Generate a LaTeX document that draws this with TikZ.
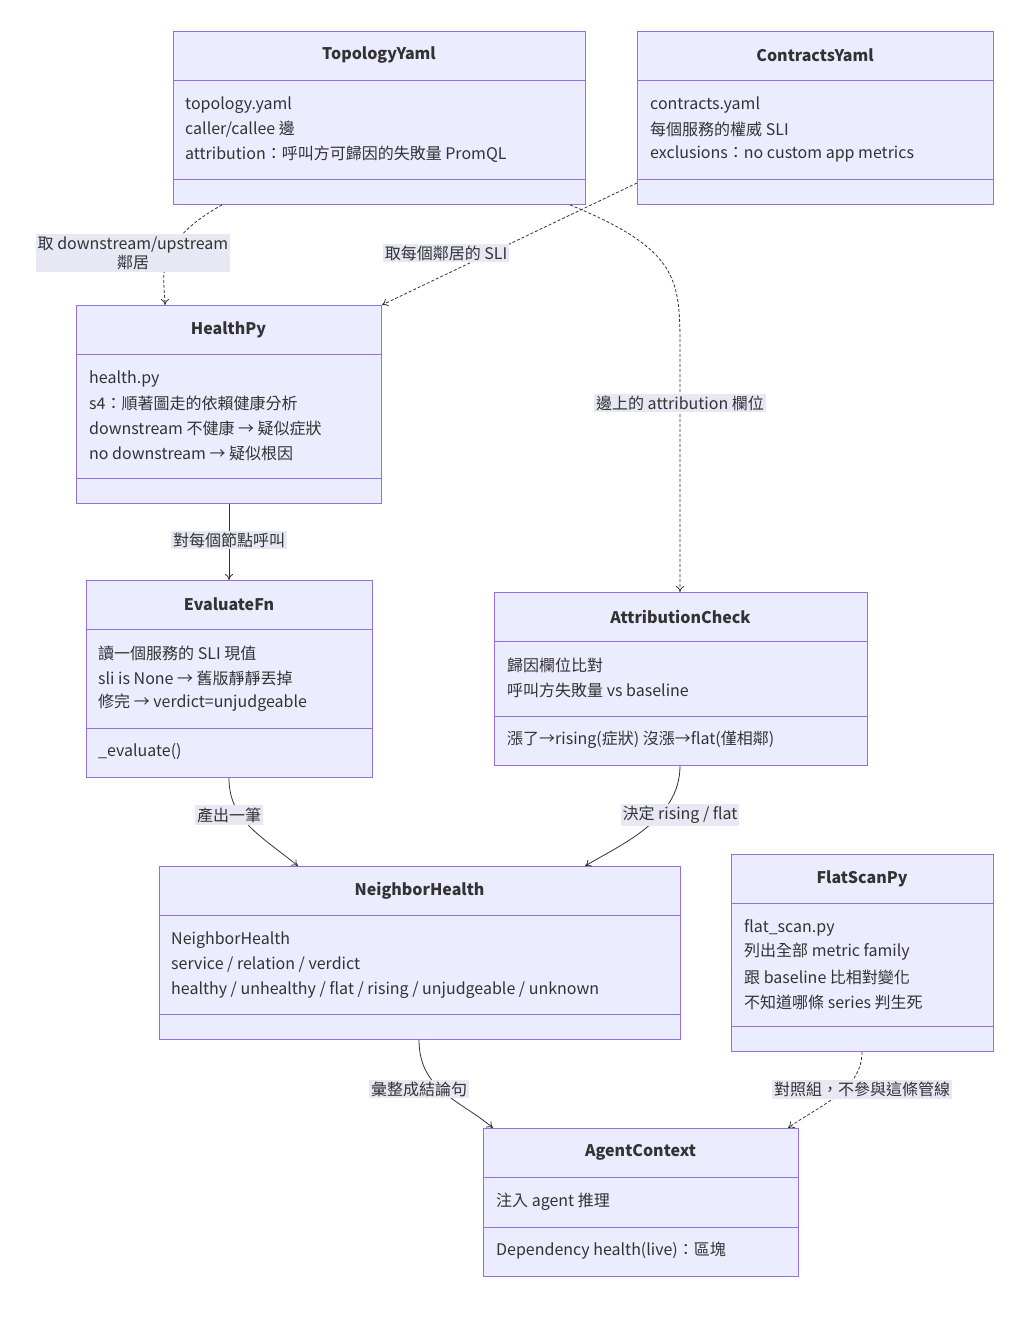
\documentclass[tikz,border=0pt]{standalone}
\usepackage{fontspec}
\setmainfont{Noto Sans CJK TC}
\usetikzlibrary{arrows.meta,calc}
\definecolor{bfill}{HTML}{ECECFF}
\definecolor{bline}{HTML}{9370DB}
\definecolor{lbg}{HTML}{E8E8F4}
\definecolor{txt}{HTML}{333333}
\begin{document}
\begin{tikzpicture}[x=1pt,y=-1pt,
 box/.style={draw=bline,fill=bfill,line width=0.9pt,inner sep=0,anchor=north west},
 title/.style={font=\fontsize{16}{19}\selectfont\bfseries,text=txt},
 t/.style={font=\fontsize{16}{19}\selectfont,text=txt,anchor=west,inner sep=0},
 lab/.style={font=\fontsize{16}{19}\selectfont,text=txt,fill=lbg,inner sep=2pt,align=center},
 e/.style={draw=txt,line width=0.8pt,-{To[length=6pt,width=8pt]}},
 d/.style={e,dash pattern=on 3pt off 2pt}]
\useasboundingbox (0,0) rectangle (1024,1317);
\newcommand\mybox[8]{% name, l,t,r,b, d1,d2, title
 \node[box,minimum width=#4-#2,minimum height=#5-#3] (#1) at (#2,#3) {};
 \draw[bline,line width=0.9pt] (#2,#6) -- (#4,#6) (#2,#7) -- (#4,#7);
 \node[title] at ({(#2+#4)/2},{(#3+#6)/2}) {#8};}
\mybox{topo}{173}{31}{585}{204}{80}{179}{TopologyYaml}
\node[t] at (185,105) {topology.yaml};
\node[t] at (185,129) {caller/callee 邊};
\node[t] at (185,154) {attribution：呼叫方可歸因的失敗量 PromQL};
\mybox{con}{637}{31}{993}{204}{80}{179}{ContractsYaml}
\node[t] at (650,105) {contracts.yaml};
\node[t] at (650,129) {每個服務的權威 SLI};
\node[t] at (650,154) {exclusions：no custom app metrics};
\mybox{hp}{76}{305}{381}{503}{354}{478}{HealthPy}
\node[t] at (89,379) {health.py};
\node[t] at (89,403) {s4：順著圖走的依賴健康分析};
\node[t] at (89,428) {downstream 不健康 → 疑似症狀};
\node[t] at (89,453) {no downstream → 疑似根因};
\mybox{ev}{86}{580}{372}{777}{629}{728}{EvaluateFn}
\node[t] at (98,653) {讀一個服務的 SLI 現值};
\node[t] at (98,678) {sli is None → 舊版靜靜丟掉};
\node[t] at (98,703) {修完 → verdict=unjudgeable};
\node[t] at (98,752) {\_evaluate()};
\mybox{ac}{494}{592}{867}{765}{641}{716}{AttributionCheck}
\node[t] at (507,665) {歸因欄位比對};
\node[t] at (507,690) {呼叫方失敗量 vs baseline};
\node[t] at (507,740) {漲了→rising(症狀) 沒漲→flat(僅相鄰)};
\mybox{nh}{159}{866}{680}{1039}{915}{1014}{NeighborHealth}
\node[t] at (171,940) {NeighborHealth};
\node[t] at (171,965) {service / relation / verdict};
\node[t] at (171,990) {healthy / unhealthy / flat / rising / unjudgeable / unknown};
\mybox{fs}{731}{854}{993}{1051}{903}{1026}{FlatScanPy}
\node[t] at (744,928) {flat\_scan.py};
\node[t] at (744,952) {列出全部 metric family};
\node[t] at (744,977) {跟 baseline 比相對變化};
\node[t] at (744,1002) {不知道哪條 series 判生死};
\mybox{ag}{483}{1128}{798}{1276}{1177}{1227}{AgentContext}
\node[t] at (496,1202) {注入 agent 推理};
\node[t] at (496,1251) {Dependency health(live)：區塊};
% edges
\draw[d] (topo.south -| 222,0) .. controls (150,245) and (165,280) .. (hp.north -| 165,0);
\node[lab] at (133,253) {取 downstream/upstream\\鄰居};
\draw[d] (con.south west |- 0,183) -- (hp.north east);
\node[lab] at (446,253) {取每個鄰居的 SLI};
\draw[d] (topo.south -| 570,0) .. controls (680,250) and (680,280) .. (680,350) -- (ac.north -| 680,0);
\node[lab] at (680,403) {邊上的 attribution 欄位};
\draw[e] (hp.south -| 229,0) -- (ev.north -| 229,0);
\node[lab] at (229,540) {對每個節點呼叫};
\draw[e] (ev.south -| 229,0) .. controls (229,820) and (260,835) .. (nh.north -| 298,0);
\node[lab] at (229,815) {產出一筆};
\draw[e] (ac.south -| 680,0) .. controls (680,820) and (620,845) .. (nh.north -| 585,0);
\node[lab] at (680,815) {決定 rising / flat};
\draw[e] (nh.south -| 419,0) .. controls (419,1090) and (460,1100) .. (ag.north -| 493,0);
\node[lab] at (419,1089) {彙整成結論句};
\draw[d] (fs.south -| 862,0) .. controls (862,1090) and (820,1105) .. (ag.north -| 788,0);
\node[lab] at (862,1089) {對照組，不參與這條管線};
\end{tikzpicture}
\end{document}
